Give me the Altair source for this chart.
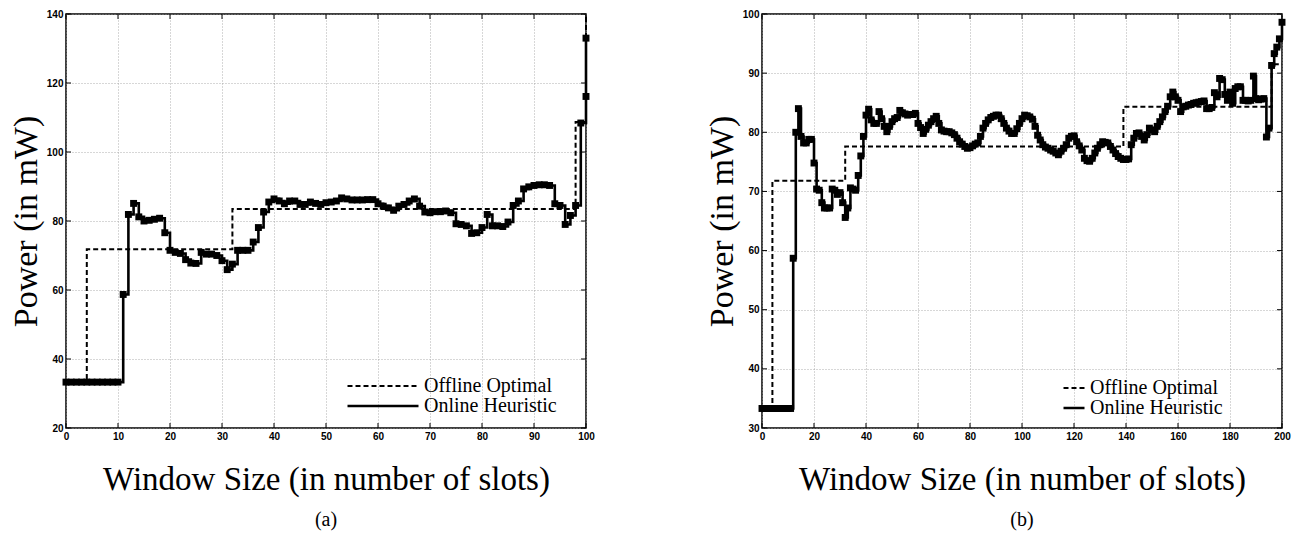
import altair as alt
import pandas as pd

OFF = "Offline Optimal"
ON = "Online Heuristic"

# ---------------- panel (a) ----------------
a_off_x = [0, 4, 32, 98, 100]
a_off_y = [33.3, 71.8, 83.5, 108.7, 140.0]

a_on_x = list(range(0, 101)) + [100]
a_on_y = [
    33.3, 33.3, 33.3, 33.3, 33.3, 33.3, 33.3, 33.3, 33.3, 33.3,
    33.3, 58.7, 81.9, 85.1, 81.2, 80.0, 80.2, 80.5, 80.8, 76.6,
    71.5, 70.9, 70.6, 68.8, 67.8, 67.7, 70.9, 70.4, 70.4, 70.0,
    68.5, 65.9, 67.5, 71.5, 71.5, 71.5, 73.9, 78.1, 82.6, 85.5,
    86.4, 85.8, 85.0, 85.8, 85.8, 84.8, 84.8, 85.5, 85.1, 84.8,
    85.3, 85.5, 85.8, 86.7, 86.4, 86.1, 86.1, 86.1, 86.2, 86.2,
    85.0, 84.3, 83.8, 83.1, 84.3, 84.8, 85.8, 86.4, 84.3, 82.6,
    82.4, 82.7, 82.7, 82.9, 82.4, 79.2, 79.0, 78.6, 76.4, 76.6,
    78.1, 81.9, 78.6, 78.6, 78.4, 79.7, 84.5, 85.8, 89.3, 89.9,
    90.3, 90.5, 90.5, 90.3, 85.0, 84.5, 79.0, 81.6, 84.5, 108.4,
    116.1, 133.0,
]
a_xticks = [0, 10, 20, 30, 40, 50, 60, 70, 80, 90, 100]
a_yticks = [20, 40, 60, 80, 100, 120, 140]

# ---------------- panel (b) ----------------
b_off_x = [0, 4, 32, 139, 196, 200]
b_off_y = [33.3, 71.8, 77.6, 84.3, 91.5, 91.5]

b_on_x = list(range(0, 201))
b_on_y = [
    33.3, 33.3, 33.3, 33.3, 33.3, 33.3, 33.3, 33.3, 33.3, 33.3,
    33.3, 33.3, 58.7, 80.0, 84.0, 79.3, 78.2, 78.2, 78.8, 78.8,
    74.8, 70.4, 70.2, 68.1, 67.2, 67.2, 67.2, 70.4, 70.2, 69.5,
    69.8, 68.1, 65.6, 67.2, 70.6, 70.4, 70.2, 72.7, 76.0, 79.3,
    82.9, 83.9, 82.1, 81.5, 81.5, 83.5, 82.3, 81.0, 80.1, 81.0,
    81.8, 82.3, 82.5, 83.7, 83.3, 83.1, 82.9, 83.0, 83.0, 83.2,
    81.5, 80.8, 79.8, 80.5, 81.2, 81.8, 82.3, 82.7, 81.5, 80.4,
    80.2, 80.1, 80.1, 79.9, 79.6, 79.0, 78.4, 78.0, 77.6, 77.3,
    77.4, 77.7, 78.0, 78.2, 79.3, 80.7, 81.5, 82.1, 82.5, 82.7,
    82.9, 82.9, 82.3, 81.5, 80.7, 80.2, 79.8, 79.8, 80.6, 81.5,
    82.3, 82.9, 82.8, 82.6, 82.2, 81.0, 79.5, 78.7, 77.9, 77.5,
    77.3, 77.0, 76.8, 76.5, 76.2, 76.8, 77.3, 77.9, 79.0, 79.3,
    79.4, 78.4, 77.7, 77.0, 75.6, 75.2, 75.1, 75.6, 76.5, 77.3,
    77.9, 78.4, 78.3, 78.2, 77.6, 77.0, 76.4, 75.9, 75.6, 75.4,
    75.4, 75.5, 77.9, 79.0, 79.8, 79.9, 79.3, 78.7, 79.6, 80.7,
    80.4, 80.1, 81.0, 81.8, 82.6, 83.5, 84.4, 86.0, 86.8, 86.0,
    85.4, 83.5, 84.3, 84.4, 84.6, 84.7, 84.9, 85.0, 85.1, 85.2,
    85.3, 84.0, 84.0, 84.2, 86.7, 86.0, 89.1, 88.9, 86.4, 85.4,
    86.8, 84.9, 87.4, 87.7, 87.7, 85.4, 85.4, 85.3, 85.4, 89.5,
    85.7, 85.5, 85.6, 85.7, 79.2, 80.7, 91.3, 93.3, 94.4, 95.8,
    98.6,
]
b_xticks = [0, 20, 40, 60, 80, 100, 120, 140, 160, 180, 200]
b_yticks = [30, 40, 50, 60, 70, 80, 90, 100]

W, H = 520, 414
XTITLE = "Window Size (in number of slots)"
YTITLE = "Power (in mW)"


def panel(off_x, off_y, on_x, on_y, xticks, yticks, leg_x, leg_y, sym_len, caption):
    rows = []
    for i, (x, y) in enumerate(zip(off_x, off_y)):
        rows.append({"x": x, "y": y, "series": OFF, "idx": i})
    for i, (x, y) in enumerate(zip(on_x, on_y)):
        rows.append({"x": x, "y": y, "series": ON, "idx": i})
    df = pd.DataFrame(rows)
    df_on = df[df["series"] == ON]

    xs = alt.Scale(domain=[xticks[0], xticks[-1]], nice=False, zero=False)
    ys = alt.Scale(domain=[yticks[0], yticks[-1]], nice=False, zero=False)
    xax = alt.Axis(values=xticks, title=XTITLE)
    yax = alt.Axis(values=yticks, title=YTITLE)

    line = alt.Chart(df).mark_line(
        interpolate="step-after", color="black"
    ).encode(
        x=alt.X("x:Q", scale=xs, axis=xax),
        y=alt.Y("y:Q", scale=ys, axis=yax),
        order=alt.Order("idx:Q"),
        strokeWidth=alt.StrokeWidth(
            "series:N", scale=alt.Scale(domain=[OFF, ON], range=[2.0, 2.6]),
            legend=None,
        ),
        strokeDash=alt.StrokeDash(
            "series:N",
            scale=alt.Scale(domain=[OFF, ON], range=[[5, 3], [1, 0]]),
            legend=alt.Legend(
                title=None, orient="none", legendX=leg_x, legendY=leg_y,
                symbolType="stroke", symbolSize=sym_len * sym_len,
                symbolStrokeWidth=2, symbolStrokeColor="black",
                labelFont="Liberation Serif", labelFontSize=20,
                labelColor="black", rowPadding=0, clipHeight=20,
                labelOffset=4, padding=0,
            ),
        ),
    )

    pts = alt.Chart(df_on).mark_point(
        shape="square", filled=True, size=48, color="black", opacity=1
    ).encode(
        x=alt.X("x:Q", scale=xs, axis=xax),
        y=alt.Y("y:Q", scale=ys, axis=yax),
    )

    tx = pd.DataFrame({"x": xticks})
    ty = pd.DataFrame({"y": yticks})
    xt_b = alt.Chart(tx).mark_rule(color="black", strokeWidth=1).encode(
        x=alt.X("x:Q", scale=xs, axis=xax), y=alt.value(H), y2=alt.value(H - 5))
    xt_t = alt.Chart(tx).mark_rule(color="black", strokeWidth=1).encode(
        x=alt.X("x:Q", scale=xs, axis=xax), y=alt.value(0), y2=alt.value(5))
    yt_l = alt.Chart(ty).mark_rule(color="black", strokeWidth=1).encode(
        y=alt.Y("y:Q", scale=ys, axis=yax), x=alt.value(0), x2=alt.value(5))
    yt_r = alt.Chart(ty).mark_rule(color="black", strokeWidth=1).encode(
        y=alt.Y("y:Q", scale=ys, axis=yax), x=alt.value(W), x2=alt.value(W - 5))

    return alt.layer(xt_b, xt_t, yt_l, yt_r, line, pts).properties(
        width=W, height=H,
        title=alt.TitleParams(
            caption, orient="bottom", anchor="middle", frame="group",
            font="Liberation Serif", fontSize=20, fontWeight="normal",
            color="black", offset=14,
        ),
    )


pa = panel(a_off_x, a_off_y, a_on_x, a_on_y, a_xticks, a_yticks, 280, 362, 71, "(a)")
pb = panel(b_off_x, b_off_y, b_on_x, b_on_y, b_xticks, b_yticks, 300, 364, 21, "(b)")

chart = alt.hconcat(pa, pb, spacing=108).resolve_scale(
    strokeDash="independent", strokeWidth="independent"
).resolve_legend(strokeDash="independent").properties(
    padding={"left": 0, "top": 0, "right": 0, "bottom": 0},
    background="white",
).configure_view(
    stroke="black", strokeWidth=1.5
).configure_axis(
    grid=True, gridDash=[1, 2], gridColor="#9a9a9a", gridWidth=0.8,
    tickSize=0, domain=False,
    labelFont="Liberation Sans", labelFontWeight="bold", labelFontSize=10,
    labelColor="black", labelPadding=3, labelFlush=False, labelOverlap=False,
    titleFont="Liberation Serif", titleFontWeight="normal", titleColor="black",
).configure_axisX(
    titleFontSize=33, titlePadding=22,
).configure_axisY(
    titleFontSize=34, titlePadding=3,
)

chart.save("out.html", embed_options={"renderer": "svg", "actions": False})
